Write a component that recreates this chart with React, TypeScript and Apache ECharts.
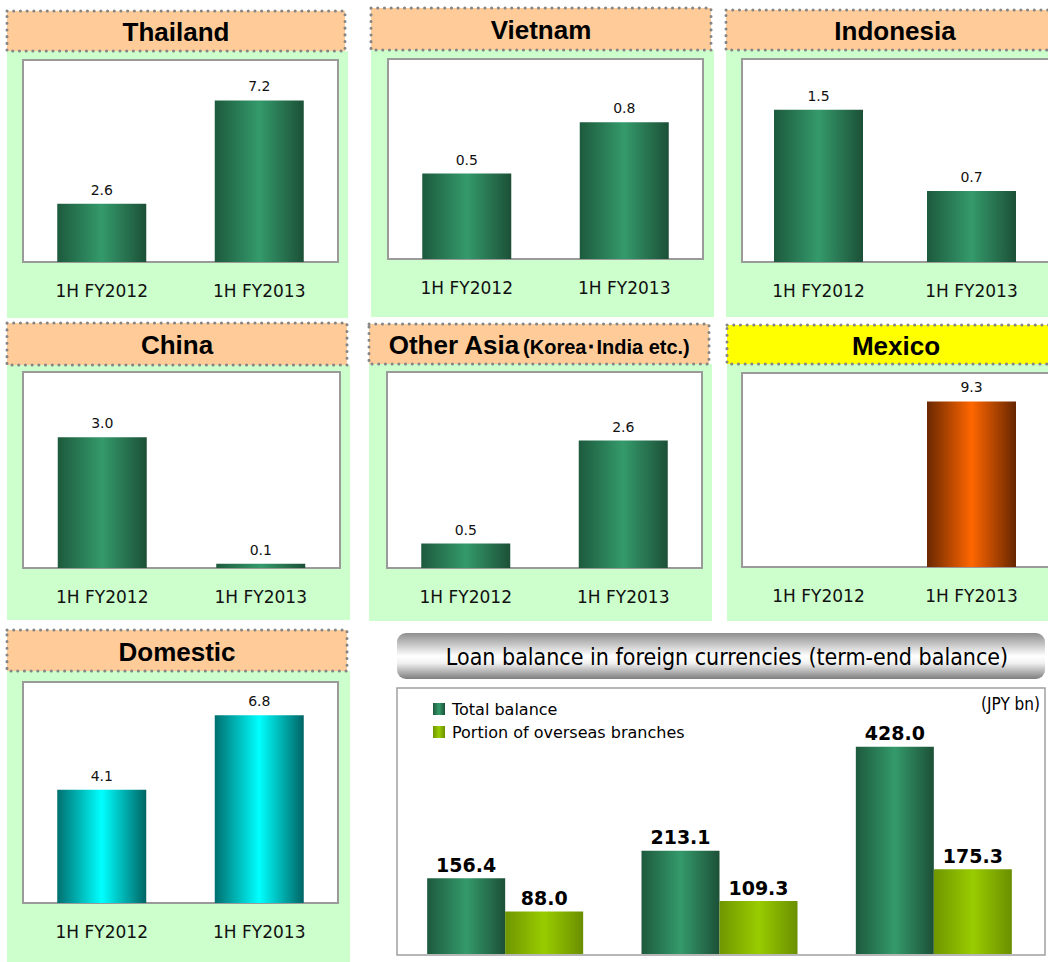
import React, { useEffect, useRef } from 'react';
import * as echarts from 'echarts';

// ---------- data ----------
const periods = ['1H FY2012', '1H FY2013'];
const thailandValues = [2.6, 7.2];
const vietnamValues = [0.5, 0.8];
const indonesiaValues = [1.5, 0.7];
const chinaValues = [3.0, 0.1];
const otherAsiaValues = [0.5, 2.6];
const mexicoValues: (number | null)[] = [null, 9.3];
const domesticValues = [4.1, 6.8];

const balancePeriods = ['Term 1', 'Term 2', 'Term 3'];
const totalBalance = [156.4, 213.1, 428.0];
const overseasPortion = [88.0, 109.3, 175.3];

// ---------- styles ----------
const grad = (edgeL: string, mid: string, edgeR: string) =>
  new echarts.graphic.LinearGradient(0, 0, 1, 0, [
    { offset: 0, color: edgeL },
    { offset: 0.5, color: mid },
    { offset: 1, color: edgeR },
  ]);
const barColors: Record<string, () => any> = {
  green: () => grad('#1D5A3D', '#349A6B', '#1C5037'),
  orange: () => grad('#6A2800', '#FF6600', '#662600'),
  cyan: () => grad('#006F6F', '#00FFFF', '#006464'),
  lime: () => grad('#6F9600', '#99CC00', '#6A8F00'),
};

type Panel = {
  title: string; sub?: string; values: (number | null)[]; bar: string; headerFill: string;
  hx: number; hy: number; hw: number; hh: number; pb: number;
  bx: number; by: number; bw: number; bh: number; max: number;
};

const panels: Panel[] = [
  { title: 'Thailand', values: thailandValues, bar: 'green', headerFill: '#FFCC99', hx: 7, hy: 11, hw: 338, hh: 40, pb: 318, bx: 23, by: 60, bw: 315, bh: 202, max: 9 },
  { title: 'Vietnam', values: vietnamValues, bar: 'green', headerFill: '#FFCC99', hx: 371, hy: 8, hw: 340, hh: 42, pb: 317, bx: 388, by: 59, bw: 315, bh: 200, max: 1.17 },
  { title: 'Indonesia', values: indonesiaValues, bar: 'green', headerFill: '#FFCC99', hx: 726, hy: 10, hw: 338, hh: 40, pb: 317, bx: 742, by: 59, bw: 316, bh: 203, max: 2.0 },
  { title: 'China', values: chinaValues, bar: 'green', headerFill: '#FFCC99', hx: 7, hy: 323, hw: 340, hh: 42, pb: 620, bx: 23, by: 372, bw: 317, bh: 196, max: 4.5 },
  { title: 'Other Asia', sub: '(Korea･India etc.)', values: otherAsiaValues, bar: 'green', headerFill: '#FFCC99', hx: 369, hy: 324, hw: 340, hh: 40, pb: 621, bx: 387, by: 372, bw: 315, bh: 196, max: 4 },
  { title: 'Mexico', values: mexicoValues, bar: 'orange', headerFill: '#FFFF00', hx: 727, hy: 325, hw: 338, hh: 39, pb: 621, bx: 742, by: 373, bw: 316, bh: 194, max: 10.9 },
  { title: 'Domestic', values: domesticValues, bar: 'cyan', headerFill: '#FFCC99', hx: 7, hy: 630, hw: 340, hh: 41, pb: 962, bx: 23, by: 682, bw: 315, bh: 221, max: 8 },
];

const FONT_LABEL = '"DejaVu Sans", "Liberation Sans", sans-serif';
const FONT_HEAD = '"Liberation Sans", Arial, sans-serif';
const FONT_NARROW = '"Liberation Sans Narrow", "DejaVu Sans Condensed", "Liberation Sans", sans-serif';

function buildOption() {
  const graphic: any[] = [];
  const grid: any[] = [];
  const xAxis: any[] = [];
  const yAxis: any[] = [];
  const series: any[] = [];

  panels.forEach((p, i) => {
    graphic.push({
      type: 'rect', z: 0,
      shape: { x: p.hx, y: p.hy + p.hh, width: p.hw + 3, height: p.pb - (p.hy + p.hh) },
      style: { fill: '#CCFFCC' },
    });
    graphic.push({
      type: 'rect', z: 1,
      shape: { x: p.hx, y: p.hy, width: p.hw, height: p.hh },
      style: { fill: p.headerFill, stroke: '#858585', lineWidth: 3, lineDash: [0.1, 6.6], lineCap: 'round' },
    });
    graphic.push({
      type: 'text', z: 2,
      x: p.hx + p.hw / 2, y: p.hy + p.hh / 2 + 1,
      style: p.sub
        ? {
            text: '{a|' + p.title + '} {b|' + p.sub + '}',
            textAlign: 'center', textVerticalAlign: 'middle', fill: '#000',
            rich: {
              a: { fontSize: 26, fontWeight: 'bold', fontFamily: FONT_HEAD, fill: '#000' },
              b: { fontSize: 20, fontWeight: 'bold', fontFamily: FONT_HEAD, fill: '#000', padding: [4, 0, 0, 0] },
            },
          }
        : {
            text: p.title, textAlign: 'center', textVerticalAlign: 'middle', fill: '#000',
            fontSize: 26, fontWeight: 'bold', fontFamily: FONT_HEAD,
          },
    });
    graphic.push({
      type: 'rect', z: 1,
      shape: { x: p.bx, y: p.by, width: p.bw, height: p.bh },
      style: { fill: '#FFFFFF', stroke: '#9A9A9A', lineWidth: 2 },
    });

    grid.push({ left: p.bx, top: p.by, width: p.bw, height: p.bh, containLabel: false });
    xAxis.push({
      type: 'category', gridIndex: i, data: periods,
      axisLine: { lineStyle: { color: '#8A8A8A', width: 2 } },
      axisTick: { inside: true, length: 6, lineStyle: { color: '#8A8A8A' } },
      axisLabel: { margin: 20, color: '#111', fontSize: 17, fontFamily: FONT_LABEL },
    });
    yAxis.push({ type: 'value', gridIndex: i, min: 0, max: p.max, show: false, splitLine: { show: false } });
    series.push({
      type: 'bar', name: p.title, xAxisIndex: i, yAxisIndex: i,
      data: p.values, barWidth: 89,
      itemStyle: { color: barColors[p.bar]() },
      label: {
        show: true, position: 'top', distance: 7, color: '#111', fontSize: 14, fontFamily: FONT_LABEL,
        formatter: (v: any) => (v.value == null ? '' : Number(v.value).toFixed(1)),
      },
    });
  });

  // ---- bottom chart ----
  graphic.push({
    type: 'rect', z: 1,
    shape: { x: 397, y: 633, width: 648, height: 46, r: 9 },
    style: {
      fill: new echarts.graphic.LinearGradient(0, 0, 0, 1, [
        { offset: 0, color: '#8E8E8E' },
        { offset: 0.5, color: '#FFFFFF' },
        { offset: 0.65, color: '#F2F2F2' },
        { offset: 1, color: '#7E7E7E' },
      ]),
    },
  });
  graphic.push({
    type: 'text', z: 2, x: 727, y: 657,
    style: {
      text: 'Loan balance in foreign currencies (term-end balance)',
      textAlign: 'center', textVerticalAlign: 'middle', fill: '#000',
      fontSize: 23, fontFamily: FONT_NARROW,
    },
  });
  graphic.push({
    type: 'rect', z: 1,
    shape: { x: 397, y: 688, width: 648, height: 267 },
    style: { fill: '#FFFFFF', stroke: '#A0A0A0', lineWidth: 1.5 },
  });
  graphic.push({
    type: 'text', z: 2, x: 1040, y: 704,
    style: {
      text: '(JPY bn)', textAlign: 'right', textVerticalAlign: 'middle', fill: '#000',
      fontSize: 17, fontFamily: FONT_NARROW,
    },
  });

  const bi = panels.length;
  grid.push({ left: 398, top: 712, width: 643, height: 242 });
  xAxis.push({
    type: 'category', gridIndex: bi, data: balancePeriods,
    axisLine: { lineStyle: { color: '#999', width: 1.5 } },
    axisTick: { inside: true, length: 6, lineStyle: { color: '#999' } },
    axisLabel: { show: false },
  });
  yAxis.push({ type: 'value', gridIndex: bi, min: 0, max: 500, show: false, splitLine: { show: false } });
  const bigLabel = {
    show: true, position: 'top', distance: 4, color: '#000', fontSize: 19, fontWeight: 'bold', fontFamily: FONT_LABEL,
    formatter: (v: any) => Number(v.value).toFixed(1),
  };
  series.push({
    type: 'bar', name: 'Total balance', xAxisIndex: bi, yAxisIndex: bi,
    data: totalBalance, barWidth: 78, barGap: '0%',
    itemStyle: { color: barColors.green() }, label: bigLabel,
  });
  series.push({
    type: 'bar', name: 'Portion of overseas branches', xAxisIndex: bi, yAxisIndex: bi,
    data: overseasPortion, barWidth: 78, barGap: '0%',
    itemStyle: { color: barColors.lime() }, label: bigLabel,
  });

  return {
    animation: false,
    backgroundColor: '#FFFFFF',
    graphic: { elements: graphic },
    legend: {
      data: ['Total balance', 'Portion of overseas branches'],
      orient: 'vertical', left: 428, top: 696, itemWidth: 12, itemHeight: 12, itemGap: 7,
      icon: 'rect',
      textStyle: { color: '#000', fontSize: 16, fontFamily: FONT_LABEL, padding: [0, 0, 0, 2] },
    },
    grid, xAxis, yAxis, series,
  };
}

export default function App() {
  const ref = useRef<HTMLDivElement>(null);
  useEffect(() => {
    if (!ref.current) return;
    const chart = echarts.init(ref.current, undefined, { renderer: 'svg' });
    chart.setOption(buildOption() as any);
    return () => chart.dispose();
  }, []);
  return (
    <div
      ref={ref}
      style={{ position: 'absolute', left: 0, top: 0, width: 1048, height: 962, overflow: 'hidden' }}
    />
  );
}
